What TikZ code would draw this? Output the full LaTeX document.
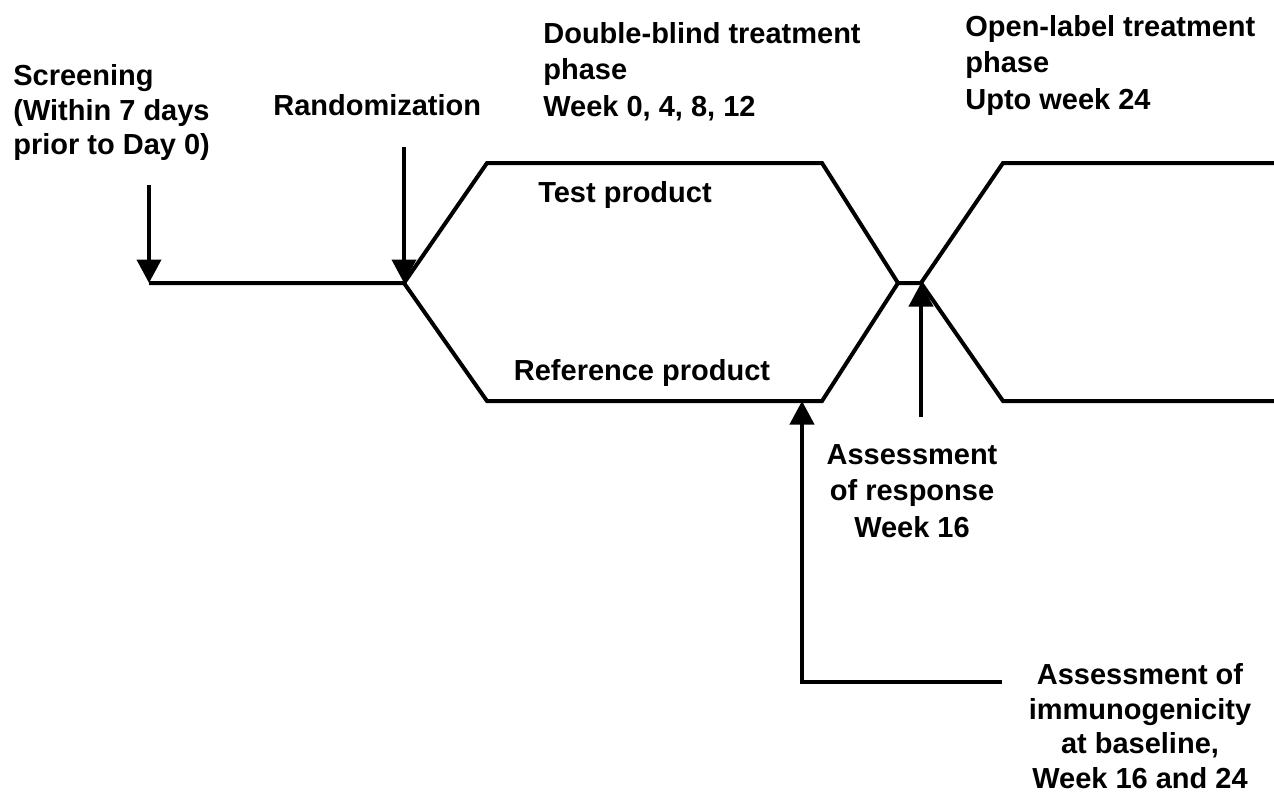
\documentclass[tikz,border=0pt]{standalone}
\usepackage{fontspec}
\setmainfont{Liberation Sans}
\usetikzlibrary{arrows.meta}
\newcommand{\lineWidth}{0.08cm}
\newcommand{\upperY}{163}
\newcommand{\midY}{283}
\newcommand{\lowerY}{401}
\newcommand{\textFont}{\fontsize{16.5}{20.8}\selectfont\bfseries}
\newcommand{\tightFont}{\fontsize{16.5}{19.8}\selectfont\bfseries}

\begin{document}
\begin{tikzpicture}[x=0.02cm, y=-0.02cm,
      track/.style={line width=\lineWidth, line cap=butt},
      marker/.style={line width=\lineWidth, -{Triangle[width=0.48cm,length=0.47cm]}},
      txt/.style={font=\textFont, inner sep=0pt}]
      \useasboundingbox (0,0) rectangle (1274,796);
      % time line points
      \coordinate (screen) at (149,\midY);
      \coordinate (split) at (404,\midY);
      \coordinate (testA) at (487,\upperY);
      \coordinate (testB) at (822,\upperY);
      \coordinate (refA) at (487,\lowerY);
      \coordinate (refB) at (822,\lowerY);
      \coordinate (cross) at (898,\midY);
      \coordinate (join) at (921,\midY);
      \coordinate (openA) at (1003,\upperY);
      \coordinate (openB) at (1274,\upperY);
      \coordinate (openC) at (1003,\lowerY);
      \coordinate (openD) at (1274,\lowerY);
      \coordinate (refMark) at (802,\lowerY);
      % labels
      \node[txt, font=\tightFont, anchor=north west, align=left] (screening) at (13,64) {Screening\\(Within 7 days\\prior to Day 0)};
      \node[txt, anchor=north west] (random) at (273,94) {Randomization};
      \node[txt, anchor=north west, align=left] (blind) at (543,22) {Double-blind treatment\\phase\\Week 0, 4, 8, 12};
      \node[txt, anchor=north west, align=left] (open) at (965,15) {Open-label treatment\\phase\\Upto week 24};
      \node[txt, anchor=north] (test) at (625,181) {Test product};
      \node[txt, anchor=north] (reference) at (642,359) {Reference product};
      \node[txt, anchor=north, align=center] (response) at (912,444) {Assessment\\of response\\Week 16};
      \node[txt, font=\tightFont, anchor=north, align=center] (immuno) at (1140,663) {Assessment of\\immunogenicity\\at baseline,\\Week 16 and 24};
      % arms
      \draw[track] (screen) -- (split) -- (testA) -- (testB) -- (cross) -- (join) -- (openA) -- (openB);
      \draw[track] (split) -- (refA) -- (refB) -- (cross);
      \draw[track] (join) -- (openC) -- (openD);
      % arrows
      \coordinate (screenTop) at (149,185);
      \coordinate (randomTop) at (404,147);
      \coordinate (responseEnd) at (921,417);
      \coordinate (immunoEnd) at (1002,682);
      \draw[marker] (screenTop) -- (screen);
      \draw[marker] (randomTop) -- (split);
      \draw[marker] (responseEnd) -- (join);
      \draw[marker] (immunoEnd) -| (refMark);
      \end{tikzpicture}
\end{document}
